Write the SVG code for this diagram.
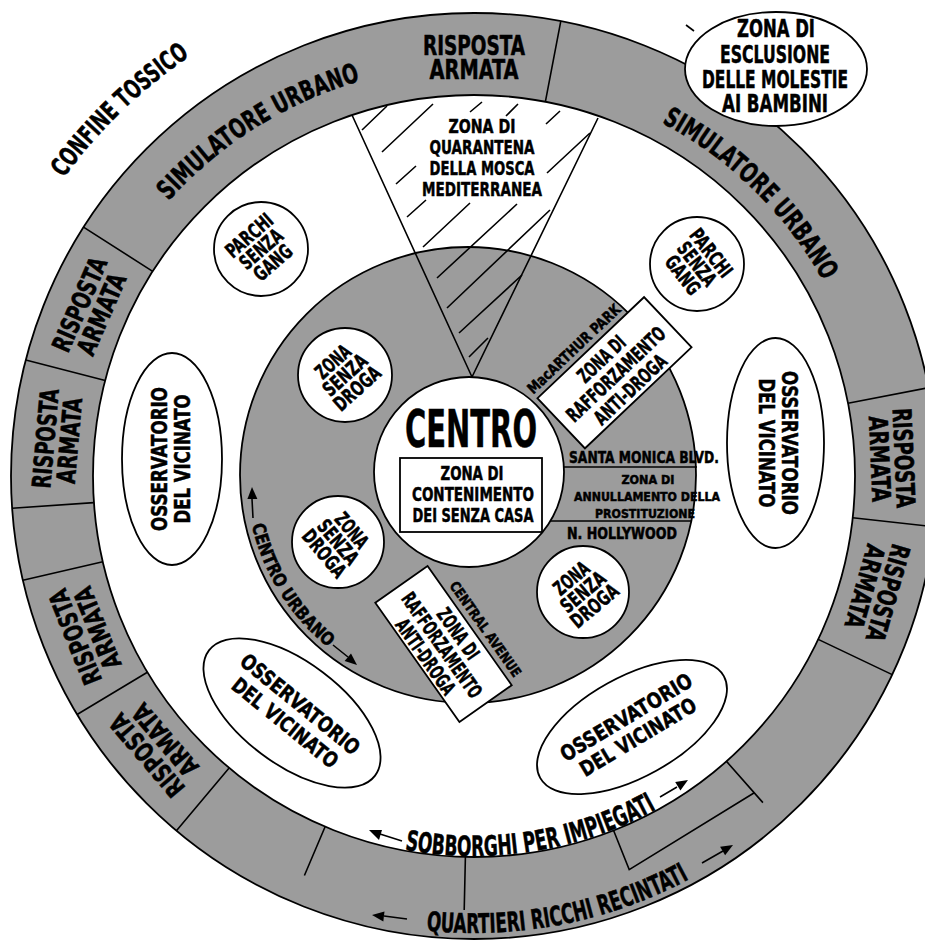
<svg xmlns="http://www.w3.org/2000/svg" width="925" height="942" viewBox="0 0 925 942">
<defs>
<style>
.t{font-family:'Liberation Sans Narrow','DejaVu Sans Condensed','Liberation Sans',Arial,sans-serif;font-weight:bold;fill:#000;stroke:#000;stroke-width:0.5;text-anchor:middle}
.ts{font-family:'Liberation Sans Narrow','DejaVu Sans Condensed','Liberation Sans',Arial,sans-serif;font-weight:bold;fill:#000;stroke:#000;stroke-width:0.5}
.ln{stroke:#000;stroke-width:1.6;fill:none}
.wh{fill:#fff;stroke:#000;stroke-width:1.8}
.ah{fill:#000;stroke:none}
</style>
<path id="pSimL" d="M168.6,201 A411,411 0 0 1 360.7,80.9"/>
<path id="pSimR" d="M661.8,122.8 A400,400 0 0 1 823.8,282.1"/>
<path id="pConf" d="M63.8,178 A507,507 0 0 1 190.5,55.7"/>
<path id="pSob" d="M404.8,849.7 A380,380 0 0 0 658.2,808.3"/>
<path id="pQua" d="M426.2,930.5 A457,457 0 0 0 692.1,877.6"/>
<path id="pCU" d="M251.7,524.9 A222,222 0 0 0 329.8,648.7"/>
</defs>
<rect width="925" height="942" fill="#fff"/>

<g id="outer-ring">
<circle cx="474" cy="476" r="463" fill="#9c9c9c" stroke="#000" stroke-width="1.8"/>
<circle cx="474" cy="476" r="381" fill="#fff" stroke="#000" stroke-width="1.8"/>
<path class="ln" d="M545.4,101.7L560.8,21.2 M848,403.3L928.5,387.7 M852.7,517.8L934.2,526.8 M818.2,639.4L892.2,674.6 M726.5,761.4L762.9,802.6 M613.6,830.5L629.2,869.6L754.3,792.8 M465.4,856.9L464.2,909.9 M325.1,826.7L304.4,875.5 M229.1,767.9L176.4,830.7 M147.4,672.2L77.1,714.5 M102.8,561.7L22.9,580.2 M93.9,502.6L12.1,508.3 M105.2,380.6L25.8,360.1 M152.7,271.3L83.5,227.2"/>
</g>

<g id="ring-labels">
<g id="ra-top" transform="translate(474,476)"><text class="t" font-size="26" y="-421" textLength="102" lengthAdjust="spacingAndGlyphs">RISPOSTA</text><text class="t" font-size="26" y="-397" textLength="89" lengthAdjust="spacingAndGlyphs">ARMATA</text></g>
<g id="ra-left1" transform="translate(474,476) rotate(-66.5)"><text class="t" font-size="26" y="-421" textLength="100" lengthAdjust="spacingAndGlyphs">RISPOSTA</text><text class="t" font-size="26" y="-397" textLength="86" lengthAdjust="spacingAndGlyphs">ARMATA</text></g>
<g id="ra-left2" transform="translate(474,476) rotate(-85)"><text class="t" font-size="26" y="-421" textLength="100" lengthAdjust="spacingAndGlyphs">RISPOSTA</text><text class="t" font-size="26" y="-397" textLength="86" lengthAdjust="spacingAndGlyphs">ARMATA</text></g>
<g id="ra-left3" transform="translate(474,476) rotate(248)"><text class="t" font-size="26" y="-421" textLength="100" lengthAdjust="spacingAndGlyphs">RISPOSTA</text><text class="t" font-size="26" y="-397" textLength="86" lengthAdjust="spacingAndGlyphs">ARMATA</text></g>
<g id="ra-left4" transform="translate(474,476) rotate(229.5)"><text class="t" font-size="26" y="-421" textLength="100" lengthAdjust="spacingAndGlyphs">RISPOSTA</text><text class="t" font-size="26" y="-397" textLength="86" lengthAdjust="spacingAndGlyphs">ARMATA</text></g>
<g id="ra-right1" transform="translate(474,476) rotate(87.6)"><text class="t" font-size="26" y="-421" textLength="100" lengthAdjust="spacingAndGlyphs">RISPOSTA</text><text class="t" font-size="26" y="-397" textLength="86" lengthAdjust="spacingAndGlyphs">ARMATA</text></g>
<g id="ra-right2" transform="translate(474,476) rotate(105.8)"><text class="t" font-size="26" y="-421" textLength="100" lengthAdjust="spacingAndGlyphs">RISPOSTA</text><text class="t" font-size="26" y="-397" textLength="86" lengthAdjust="spacingAndGlyphs">ARMATA</text></g>
<g id="sim-left"><text class="ts" font-size="27"><textPath href="#pSimL" textLength="229" lengthAdjust="spacingAndGlyphs">SIMULATORE URBANO</textPath></text></g>
<g id="sim-right"><text class="ts" font-size="27"><textPath href="#pSimR" textLength="229" lengthAdjust="spacingAndGlyphs">SIMULATORE URBANO</textPath></text></g>
<g id="sobborghi"><text class="ts" font-size="28"><textPath href="#pSob" textLength="260" lengthAdjust="spacingAndGlyphs">SOBBORGHI PER IMPIEGATI</textPath></text></g>
<g id="quartieri"><text class="ts" font-size="27"><textPath href="#pQua" textLength="272" lengthAdjust="spacingAndGlyphs">QUARTIERI RICCHI RECINTATI</textPath></text></g>
</g>

<g id="confine-tossico"><text class="ts" font-size="26"><textPath href="#pConf" textLength="176" lengthAdjust="spacingAndGlyphs">CONFINE TOSSICO</textPath></text></g>

<g id="centro-urbano">
<circle cx="468" cy="475" r="228" fill="#9c9c9c" stroke="#000" stroke-width="1.8"/>
<text class="ts" font-size="18"><textPath href="#pCU" textLength="147" lengthAdjust="spacingAndGlyphs">CENTRO URBANO</textPath></text>
</g>

<g id="quarantena">
<path class="ln" d="M352,115L472,377L598,118"/>
<path class="ln" stroke-width="1.4" d="M362,130L387,106 M382,152L433,104 M396,184L416,166 M407,217L426,200 M470,112L482,102 M506,116L518,104 M546,124L560,111 M547,173L590,133 M423,247L470,203 M437,278L517,204 M447,308L550,210 M459,333L522,275 M469,357L488,338"/>
<text class="t" font-size="20" x="482" y="133" textLength="67" lengthAdjust="spacingAndGlyphs">ZONA DI</text>
<text class="t" font-size="20" x="482" y="154" textLength="105" lengthAdjust="spacingAndGlyphs">QUARANTENA</text>
<text class="t" font-size="20" x="482" y="175" textLength="105" lengthAdjust="spacingAndGlyphs">DELLA MOSCA</text>
<text class="t" font-size="20" x="482" y="196" textLength="120" lengthAdjust="spacingAndGlyphs">MEDITERRANEA</text>
</g>

<g id="prostituzione">
<path class="ln" d="M562,467H697 M550,521H692"/>
<text class="ts" font-size="16" x="569" y="463" textLength="150" lengthAdjust="spacingAndGlyphs">SANTA MONICA BLVD.</text>
<text class="t" font-size="12.5" x="648" y="484" textLength="53" lengthAdjust="spacingAndGlyphs">ZONA DI</text>
<text class="ts" font-size="13" x="574" y="501" textLength="146" lengthAdjust="spacingAndGlyphs">ANNULLAMENTO DELLA</text>
<text class="ts" font-size="13" x="595" y="518" textLength="100" lengthAdjust="spacingAndGlyphs">PROSTITUZIONE</text>
<text class="ts" font-size="15" x="567" y="539" textLength="110" lengthAdjust="spacingAndGlyphs">N. HOLLYWOOD</text>
</g>

<g id="centro">
<circle cx="469" cy="472" r="95" class="wh"/>
<text class="t" font-size="52" x="471" y="447" textLength="132" lengthAdjust="spacingAndGlyphs">CENTRO</text>
<rect x="400" y="458" width="142" height="74" fill="#fff" stroke="#000" stroke-width="1.8"/>
<text class="t" font-size="19" x="472" y="480" textLength="63" lengthAdjust="spacingAndGlyphs">ZONA DI</text>
<text class="t" font-size="19" x="473" y="501" textLength="122" lengthAdjust="spacingAndGlyphs">CONTENIMENTO</text>
<text class="t" font-size="19" x="473" y="522" textLength="121" lengthAdjust="spacingAndGlyphs">DEI SENZA CASA</text>
</g>

<g id="anti-droga-1" transform="translate(614.5,372.75) rotate(-43.5)">
<rect x="-73.5" y="-34.5" width="147" height="69" class="wh"/>
<text class="t" font-size="20" y="-12" textLength="58" lengthAdjust="spacingAndGlyphs">ZONA DI</text>
<text class="t" font-size="20" y="9" textLength="128" lengthAdjust="spacingAndGlyphs">RAFFORZAMENTO</text>
<text class="t" font-size="20" y="30" textLength="92" lengthAdjust="spacingAndGlyphs">ANTI-DROGA</text>
<text class="t" font-size="15" x="-13" y="-40" textLength="122" lengthAdjust="spacingAndGlyphs">MacARTHUR PARK</text>
</g>

<g id="anti-droga-2" transform="translate(443.5,644) rotate(54.8)">
<rect x="-73" y="-32" width="146" height="64" class="wh"/>
<text class="t" font-size="20" y="-11" textLength="58" lengthAdjust="spacingAndGlyphs">ZONA DI</text>
<text class="t" font-size="20" y="9" textLength="124" lengthAdjust="spacingAndGlyphs">RAFFORZAMENTO</text>
<text class="t" font-size="20" y="29" textLength="88" lengthAdjust="spacingAndGlyphs">ANTI-DROGA</text>
<text class="t" font-size="14" x="12" y="-38" textLength="113" lengthAdjust="spacingAndGlyphs">CENTRAL AVENUE</text>
</g>

<g id="droga-1"><circle cx="345" cy="375" r="47" class="wh"/><g transform="translate(345,375) rotate(-42)"><text class="t" font-size="20" y="-11" textLength="40" lengthAdjust="spacingAndGlyphs">ZONA</text><text class="t" font-size="20" y="7" textLength="52" lengthAdjust="spacingAndGlyphs">SENZA</text><text class="t" font-size="20" y="25" textLength="56" lengthAdjust="spacingAndGlyphs">DROGA</text></g></g>
<g id="droga-2"><circle cx="338" cy="542" r="46" class="wh"/><g transform="translate(338,542) rotate(50)"><text class="t" font-size="20" y="-11" textLength="40" lengthAdjust="spacingAndGlyphs">ZONA</text><text class="t" font-size="20" y="7" textLength="52" lengthAdjust="spacingAndGlyphs">SENZA</text><text class="t" font-size="20" y="25" textLength="56" lengthAdjust="spacingAndGlyphs">DROGA</text></g></g>
<g id="droga-3"><circle cx="583" cy="592" r="46" class="wh"/><g transform="translate(583,592) rotate(-40)"><text class="t" font-size="20" y="-11" textLength="40" lengthAdjust="spacingAndGlyphs">ZONA</text><text class="t" font-size="20" y="7" textLength="52" lengthAdjust="spacingAndGlyphs">SENZA</text><text class="t" font-size="20" y="25" textLength="56" lengthAdjust="spacingAndGlyphs">DROGA</text></g></g>

<g id="parchi-1"><circle cx="261" cy="249" r="47" class="wh"/><g transform="translate(261,249) rotate(-41)"><text class="t" font-size="20" y="-11" textLength="56" lengthAdjust="spacingAndGlyphs">PARCHI</text><text class="t" font-size="20" y="7" textLength="50" lengthAdjust="spacingAndGlyphs">SENZA</text><text class="t" font-size="20" y="25" textLength="44" lengthAdjust="spacingAndGlyphs">GANG</text></g></g>
<g id="parchi-2"><circle cx="697" cy="264" r="47" class="wh"/><g transform="translate(697,264) rotate(52)"><text class="t" font-size="20" y="-11" textLength="56" lengthAdjust="spacingAndGlyphs">PARCHI</text><text class="t" font-size="20" y="7" textLength="50" lengthAdjust="spacingAndGlyphs">SENZA</text><text class="t" font-size="20" y="25" textLength="44" lengthAdjust="spacingAndGlyphs">GANG</text></g></g>

<g id="osservatorio-left"><ellipse cx="172" cy="459" rx="50" ry="106" class="wh"/><g transform="translate(170,459) rotate(-90)"><text class="t" font-size="21" y="-3" textLength="144" lengthAdjust="spacingAndGlyphs">OSSERVATORIO</text><text class="t" font-size="21" y="20" textLength="129" lengthAdjust="spacingAndGlyphs">DEL VICINATO</text></g></g>
<g id="osservatorio-right"><ellipse cx="775.5" cy="443" rx="48.5" ry="105" class="wh"/><g transform="translate(779,443) rotate(90)"><text class="t" font-size="21" y="-3" textLength="144" lengthAdjust="spacingAndGlyphs">OSSERVATORIO</text><text class="t" font-size="21" y="20" textLength="129" lengthAdjust="spacingAndGlyphs">DEL VICINATO</text></g></g>
<g id="osservatorio-ll"><ellipse cx="292" cy="713" rx="104" ry="51" transform="rotate(37 292 713)" class="wh"/><g transform="translate(293,713) rotate(39)"><text class="t" font-size="21" y="-4" textLength="147" lengthAdjust="spacingAndGlyphs">OSSERVATORIO</text><text class="t" font-size="21" y="20" textLength="130" lengthAdjust="spacingAndGlyphs">DEL VICINATO</text></g></g>
<g id="osservatorio-lr"><ellipse cx="632" cy="727" rx="105" ry="50" transform="rotate(-29 632 727)" class="wh"/><g transform="translate(632,727) rotate(-31)"><text class="t" font-size="21" y="-4" textLength="150" lengthAdjust="spacingAndGlyphs">OSSERVATORIO</text><text class="t" font-size="21" y="19" textLength="132" lengthAdjust="spacingAndGlyphs">DEL VICINATO</text></g></g>

<g id="esclusione">
<path class="ln" stroke-width="1.2" d="M686,25L694,31"/>
<ellipse cx="776" cy="69" rx="91" ry="57" class="wh"/>
<text class="t" font-size="24" x="776" y="37" textLength="78" lengthAdjust="spacingAndGlyphs">ZONA DI</text>
<text class="t" font-size="24" x="775" y="63" textLength="110" lengthAdjust="spacingAndGlyphs">ESCLUSIONE</text>
<text class="t" font-size="24" x="775" y="88" textLength="146" lengthAdjust="spacingAndGlyphs">DELLE MOLESTIE</text>
<text class="t" font-size="24" x="775" y="112" textLength="106" lengthAdjust="spacingAndGlyphs">AI BAMBINI</text>
</g>

<g id="connectors">
<path class="ln" stroke-width="1.5" d="M402,841L380,834 M660,797L677,787 M407,919L384,916 M702,863L723,851 M253,518L252,499 M333,645L348,657"/>
<polygon class="ah" points="369,830 382,830 379,840"/>
<polygon class="ah" points="688,780 680.4,790.5 675.2,781.9"/>
<polygon class="ah" points="372,915 384.5,911.4 383.3,921.4"/>
<polygon class="ah" points="733,845 725.1,855.3 720.1,846.7"/>
<polygon class="ah" points="252,487 257.4,499 247.4,499"/>
<polygon class="ah" points="357,665 351,653.5 344.6,661.1"/>
</g>
</svg>
